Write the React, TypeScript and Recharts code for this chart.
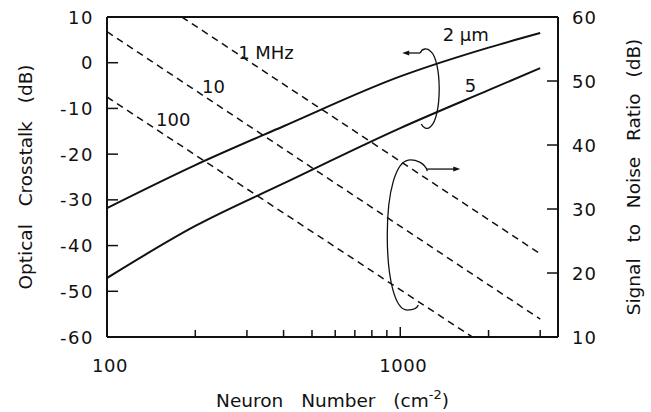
import React from 'react';
import { LineChart, Line, XAxis, YAxis, ReferenceDot, ReferenceLine, Label } from 'recharts';

// Neuron number (cm^-2) ticks on the log x-axis
const xTicks = [100, 200, 300, 400, 500, 600, 700, 800, 900, 1000, 2000, 3000];
const xLabelled = [100, 1000];
const leftTicks = [-60, -50, -40, -30, -20, -10, 0, 10];
const rightTicks = [10, 20, 30, 40, 50, 60];

// Optical crosstalk (dB), left axis
const crosstalk2um = [
  { x: 100, y: -31.8 },
  { x: 200, y: -22.4 },
  { x: 400, y: -13.9 },
  { x: 1000, y: -3.0 },
  { x: 2000, y: 3.3 },
  { x: 3000, y: 6.5 },
];
const crosstalk5um = [
  { x: 100, y: -47.1 },
  { x: 200, y: -35.7 },
  { x: 400, y: -26.4 },
  { x: 1000, y: -14.3 },
  { x: 2000, y: -6.0 },
  { x: 3000, y: -1.2 },
];

// Signal to noise ratio (dB), right axis
const snr1MHz = [
  { x: 180, y: 60 },
  { x: 3000, y: 23 },
];
const snr10MHz = [
  { x: 100, y: 57.7 },
  { x: 3000, y: 12.8 },
];
const snr100MHz = [
  { x: 100, y: 47.5 },
  { x: 1760, y: 10 },
];

// Curve labels (anchored in left-axis data units)
const curveLabels = [
  { text: '1 MHz', x: 280, y: 2.3 },
  { text: '10', x: 211, y: -5.3 },
  { text: '100', x: 147, y: -12.5 },
  { text: '2 µm', x: 1395, y: 6.1 },
  { text: '5', x: 1660, y: -4.9 },
];

// Bracket annotations (anchor point in data units)
const bracketCrosstalk = { x: 1265, y: -5.75 };
const bracketSnr = { x: 1040, y: -37.7 };

const FONT = '"DejaVu Sans", sans-serif';
const INK = '#111';

const XTick = (props: any) => {
  const { x, y, payload } = props;
  const v = payload.value;
  const major = v === 100 || v === 1000;
  return (
    <g>
      <line x1={x} x2={x} y1={y} y2={y - (major ? 10 : 7)} stroke={INK} strokeWidth={1.5} />
      {xLabelled.includes(v) && (
        <text x={x + 3} y={y + 28} textAnchor="middle" dominantBaseline="central" fontFamily={FONT} fontSize={18} letterSpacing={0.5} fill={INK}>
          {String(v)}
        </text>
      )}
    </g>
  );
};

const LeftTick = (props: any) => {
  const { x, y, payload } = props;
  return (
    <g>
      <line x1={x} x2={x + 11} y1={y} y2={y} stroke={INK} strokeWidth={1.5} />
      <text x={x - 13} y={y} textAnchor="end" dominantBaseline="central" fontFamily={FONT} fontSize={18} letterSpacing={1.5} fill={INK}>
        {String(payload.value)}
      </text>
    </g>
  );
};

const RightTick = (props: any) => {
  const { x, y, payload } = props;
  return (
    <g>
      <line x1={x} x2={x - 11} y1={y} y2={y} stroke={INK} strokeWidth={1.5} />
      <text x={x + 14} y={y} textAnchor="start" dominantBaseline="central" fontFamily={FONT} fontSize={18} letterSpacing={1} fill={INK}>
        {String(payload.value)}
      </text>
    </g>
  );
};

const textShape = (text: string) => (p: any) => (
  <text x={p.cx} y={p.cy} dominantBaseline="central" fontFamily={FONT} fontSize={18} fill={INK}>
    {text}
  </text>
);

const bracketUpper = (p: any) => {
  const { cx, cy } = p;
  return (
    <g transform={`translate(${cx},${cy})`}>
      <path d="M-10,-36 C-8,-41 -3,-41 0,-38 C12,-29 12,29 0,38 C-3,41 -7,39 -9,35" fill="none" stroke={INK} strokeWidth={1.3} />
      <line x1={-22} x2={-10} y1={-36} y2={-36} stroke={INK} strokeWidth={1.3} />
      <polygon points="-28,-36 -21,-38.5 -21,-33.5" fill={INK} />
    </g>
  );
};

const bracketLower = (p: any) => {
  const { cx, cy } = p;
  return (
    <g transform={`translate(${cx},${cy})`}>
      <path d="M22,-64 C20,-72 10,-76 3,-75 C-9,-73 -18,-45 -18,0 C-18,45 -10,75 2,75 C8,75 12,73 13,70" fill="none" stroke={INK} strokeWidth={1.3} />
      <line x1={21} x2={49} y1={-66} y2={-66} stroke={INK} strokeWidth={1.3} />
      <polygon points="55,-66 48,-68.5 48,-63.5" fill={INK} />
    </g>
  );
};

export default function App() {
  return (
    <div style={{ position: 'absolute', left: 0, top: 0, background: '#fff' }}>
      <LineChart width={651} height={412} margin={{ top: 17, right: 0, left: 0, bottom: 0 }}>
        <XAxis
          xAxisId="x"
          dataKey="x"
          type="number"
          scale="log"
          domain={[100, 3450]}
          allowDataOverflow
          ticks={xTicks}
          interval={0}
          height={75}
          tickSize={0}
          tickMargin={0}
          tickLine={false}
          axisLine={{ stroke: INK, strokeWidth: 2 }}
          tick={<XTick />}
        >
          <Label
            content={(lp: any) => {
              const vb = lp.viewBox;
              const cx = vb.x + vb.width / 2;
              return (
                <text x={cx} y={vb.y + 70} textAnchor="middle" fontFamily={FONT} fontSize={18.5} wordSpacing={12} fill={INK}>
                  Neuron Number (cm<tspan dy={-8} fontSize={13}>-2</tspan><tspan dy={8}>)</tspan>
                </text>
              );
            }}
          />
        </XAxis>
        <YAxis
          yAxisId="left"
          orientation="left"
          type="number"
          domain={[-60, 10]}
          ticks={leftTicks}
          interval={0}
          width={107}
          tickSize={0}
          tickMargin={0}
          tickLine={false}
          axisLine={{ stroke: INK, strokeWidth: 2 }}
          tick={<LeftTick />}
        >
          <Label
            content={(lp: any) => {
              const vb = lp.viewBox;
              const x = vb.x + 25;
              const y = vb.y + vb.height / 2;
              return (
                <text x={x} y={y} transform={`rotate(-90 ${x} ${y})`} textAnchor="middle" dominantBaseline="central" fontFamily={FONT} fontSize={18.5} wordSpacing={12} fill={INK}>
                  Optical Crosstalk (dB)
                </text>
              );
            }}
          />
        </YAxis>
        <YAxis
          yAxisId="right"
          orientation="right"
          type="number"
          domain={[10, 60]}
          ticks={rightTicks}
          interval={0}
          width={93}
          tickSize={0}
          tickMargin={0}
          tickLine={false}
          axisLine={{ stroke: INK, strokeWidth: 2 }}
          tick={<RightTick />}
        >
          <Label
            content={(lp: any) => {
              const vb = lp.viewBox;
              const x = vb.x + 75;
              const y = vb.y + vb.height / 2;
              return (
                <text x={x} y={y} transform={`rotate(-90 ${x} ${y})`} textAnchor="middle" dominantBaseline="central" fontFamily={FONT} fontSize={18.5} wordSpacing={10} fill={INK}>
                  Signal to Noise Ratio (dB)
                </text>
              );
            }}
          />
        </YAxis>

        <ReferenceLine xAxisId="x" yAxisId="left" y={10} stroke={INK} strokeWidth={2} />

        <Line xAxisId="x" yAxisId="left" data={crosstalk2um} dataKey="y" type="monotone" stroke={INK} strokeWidth={2} dot={false} activeDot={false} isAnimationActive={false} />
        <Line xAxisId="x" yAxisId="left" data={crosstalk5um} dataKey="y" type="monotone" stroke={INK} strokeWidth={2} dot={false} activeDot={false} isAnimationActive={false} />
        <Line xAxisId="x" yAxisId="right" data={snr1MHz} dataKey="y" type="linear" stroke={INK} strokeWidth={1.5} strokeDasharray="7 5" dot={false} activeDot={false} isAnimationActive={false} />
        <Line xAxisId="x" yAxisId="right" data={snr10MHz} dataKey="y" type="linear" stroke={INK} strokeWidth={1.5} strokeDasharray="7 5" dot={false} activeDot={false} isAnimationActive={false} />
        <Line xAxisId="x" yAxisId="right" data={snr100MHz} dataKey="y" type="linear" stroke={INK} strokeWidth={1.5} strokeDasharray="7 5" dot={false} activeDot={false} isAnimationActive={false} />

        {curveLabels.map((l) => (
          <ReferenceDot key={l.text} xAxisId="x" yAxisId="left" x={l.x} y={l.y} r={0} shape={textShape(l.text)} />
        ))}
        <ReferenceDot xAxisId="x" yAxisId="left" x={bracketCrosstalk.x} y={bracketCrosstalk.y} r={0} shape={bracketUpper} />
        <ReferenceDot xAxisId="x" yAxisId="left" x={bracketSnr.x} y={bracketSnr.y} r={0} shape={bracketLower} />
      </LineChart>
    </div>
  );
}
